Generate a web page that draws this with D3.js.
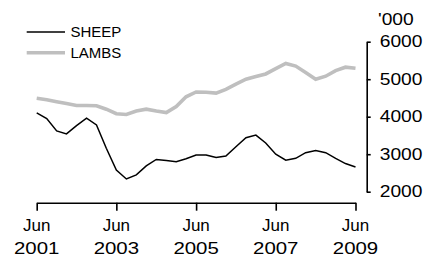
<!DOCTYPE html>
<html>
<head>
<meta charset="utf-8">
<script src="https://cdn.jsdelivr.net/npm/d3@7"></script>
<style>
  body { margin: 0; background: #fff; }
  svg { display: block; font-family: "Liberation Sans", Arial, sans-serif; }
</style>
</head>
<body>
<svg id="chart" width="429" height="262"></svg>
<script>
"use strict";

// quarterly, Jun 2001 .. Jun 2009 ('000)
const startQuarter = new Date(2001, 5, 1);
const sheep = [
  4100, 3950, 3620, 3540, 3760, 3960, 3780, 3160, 2580, 2340, 2450,
  2690, 2860, 2830, 2800, 2880, 2980, 2980, 2910, 2950, 3200, 3440,
  3510, 3300, 3000, 2840, 2890, 3040, 3100, 3040, 2890, 2750, 2660,
];
const lambs = [
  4490, 4450, 4400, 4350, 4300, 4300, 4290, 4200, 4080, 4060, 4150,
  4200, 4150, 4110, 4270, 4530, 4660, 4650, 4630, 4730, 4870, 5000,
  5070, 5140, 5280, 5420, 5350, 5180, 5000, 5080, 5230, 5320, 5290,
];
const seriesNames = ["SHEEP", "LAMBS"];
const xTickYears = [2001, 2003, 2005, 2007, 2009];
const yTicks = [2000, 3000, 4000, 5000, 6000];
const yUnit = "'000";

/*********/
/* setup */
/*********/

const svg = d3.select("#chart");
const dates = sheep.map((d, i) => d3.timeMonth.offset(startQuarter, i * 3));

const x = d3
  .scaleTime()
  .domain([dates[0], dates[dates.length - 1]])
  .range([36.7, 355.5]);

const y = d3.scaleLinear().domain([2000, 6000]).range([191.7, 41.7]);

// digits in the reference are drawn wider than the font's own
function stretch(selection, k) {
  selection.each(function() {
    const w = this.getComputedTextLength();
    d3.select(this)
      .attr("textLength", w * k)
      .attr("lengthAdjust", "spacingAndGlyphs");
  });
}

/********/
/* axes */
/********/

const xAxis = svg
  .append("g")
  .attr("transform", "translate(0,202.7)")
  .call(
    d3
      .axisBottom(x)
      .tickValues(xTickYears.map(yr => new Date(yr, 5, 1)))
      .tickSize(8)
      .tickSizeOuter(0)
      .tickFormat(""),
  );
xAxis.selectAll("path, line").attr("stroke", "#000").attr("stroke-width", 1.6);

const xLabels = svg.append("g").attr("font-size", 17).attr("fill", "#000");
xTickYears.forEach(yr => {
  const px = x(new Date(yr, 5, 1));
  xLabels
    .append("text")
    .attr("x", px)
    .attr("y", 231)
    .attr("text-anchor", "middle")
    .text("Jun");
  xLabels
    .append("text")
    .attr("class", "year")
    .attr("x", px)
    .attr("y", 254)
    .attr("text-anchor", "middle")
    .text(yr);
});
stretch(xLabels.selectAll(".year"), 1.2);

const yAxis = svg
  .append("g")
  .attr("transform", "translate(366.7,0)")
  .call(
    d3
      .axisRight(y)
      .tickValues(yTicks)
      .tickSize(4)
      .tickSizeOuter(0)
      .tickFormat(d3.format("d")),
  );
yAxis.selectAll("path, line").attr("stroke", "#000").attr("stroke-width", 1.6);
yAxis
  .selectAll("text")
  .attr("x", 13)
  .attr("font-size", 16)
  .attr("font-family", null)
  .attr("fill", "#000");
stretch(yAxis.selectAll("text"), 1.2);
yAxis.attr("font-family", null);

const unit = svg
  .append("text")
  .attr("x", 378)
  .attr("y", 25)
  .attr("font-size", 16)
  .text(yUnit);
stretch(unit, 1.2);

/*********/
/* lines */
/*********/

const line = d3
  .line()
  .x((d, i) => x(dates[i]))
  .y(d => y(d));

svg
  .append("path")
  .datum(lambs)
  .attr("fill", "none")
  .attr("stroke", "#bfbfbf")
  .attr("stroke-width", 3.6)
  .attr("d", line);

svg
  .append("path")
  .datum(sheep)
  .attr("fill", "none")
  .attr("stroke", "#000")
  .attr("stroke-width", 1.5)
  .attr("d", line);

/**********/
/* legend */
/**********/

const legendStyles = [
  { stroke: "#000", width: 1.5 },
  { stroke: "#bfbfbf", width: 3.6 },
];
const legend = svg.append("g");
seriesNames.forEach((name, i) => {
  const ly = 32 + i * 20.8;
  legend
    .append("line")
    .attr("x1", 26.7)
    .attr("x2", 65)
    .attr("y1", ly)
    .attr("y2", ly)
    .attr("stroke", legendStyles[i].stroke)
    .attr("stroke-width", legendStyles[i].width);
  legend
    .append("text")
    .attr("x", 70.5)
    .attr("y", ly + 5.3)
    .attr("font-size", 15)
    .text(name);
});
</script>
</body>
</html>
